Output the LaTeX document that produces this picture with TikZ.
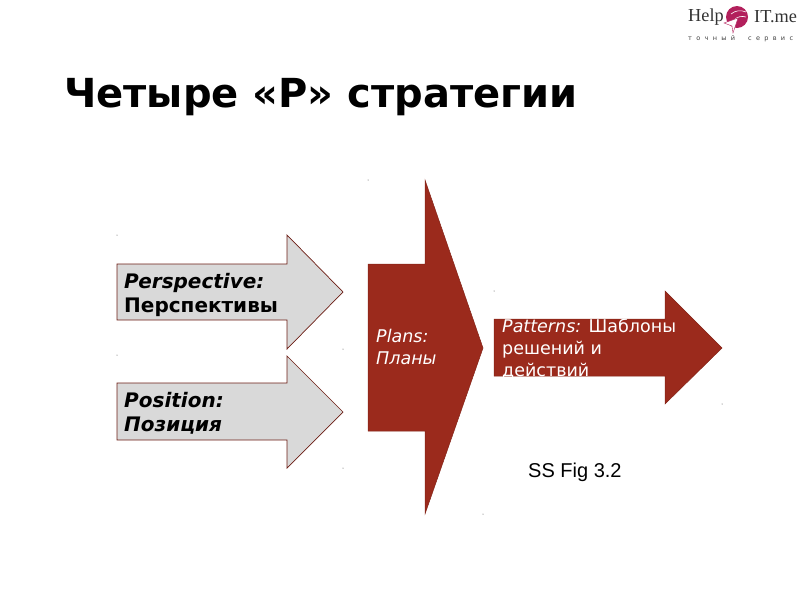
\documentclass[tikz,border=0pt]{standalone}
\usepackage{fontspec}
\setmainfont{DejaVu Sans}
\newfontfamily\figfont{Liberation Sans}
\newfontfamily\logofont{Liberation Serif}
\usepackage{xcolor}
\definecolor{brn}{RGB}{155,42,28}
\definecolor{gry}{RGB}{217,217,217}
\definecolor{pnk}{RGB}{178,32,92}
\begin{document}
\begin{tikzpicture}[x=1pt,y=-1pt,
  grayarr/.style={fill=gry,draw=brn!70!black,line width=0.7pt},
  redarr/.style={fill=brn,draw=brn!85!black,line width=0.5pt},
  lbl/.style={anchor=north west,align=left,inner sep=0pt,font=\fontsize{20}{24}\selectfont},
  wlbl/.style={lbl,text=white,font=\fontsize{17.5}{22}\selectfont},
  logotxt/.style={anchor=west,inner sep=0pt,font=\fontsize{18.3}{22}\selectfont\logofont,text=black!80},
  speck/.style={fill=black!70,circle,inner sep=0pt,minimum size=1pt}]
  \useasboundingbox (0,0) rectangle (800,600);
  \node[anchor=west,inner sep=0pt,font=\fontsize{40}{46}\selectfont\bfseries] (title) at (64,97) {Четыре «Р» стратегии};
  % arrows
  \draw[grayarr] (117,264)--(287,264)--(287,235)--(343,292)--(287,349)--(287,320)--(117,320)--cycle;
  \draw[grayarr] (117,383)--(287,383)--(287,356)--(343,412)--(287,468)--(287,440)--(117,440)--cycle;
  \draw[redarr] (368,264)--(425,264)--(425,180)--(483,348)--(425,514)--(425,431)--(368,431)--cycle;
  \draw[redarr] (494,319)--(665,319)--(665,291)--(722,348)--(665,404)--(665,376)--(494,376)--cycle;
  % labels
  \node[lbl] (persp) at (124,273) {\textbf{\textit{Perspective:}}\\\textbf{Перспективы}};
  \node[lbl] (posn) at (124,392) {\textbf{\textit{Position:}}\\\textbf{\textit{Позиция}}};
  \node[wlbl] (plans) at (376,329) {\textit{Plans:}\\\textit{Планы}};
  \node[wlbl] (patt) at (502,319) {\textit{Patterns:} Шаблоны\\решений и\\действий};
  \node[anchor=west,inner sep=0pt,font=\fontsize{20}{24}\selectfont\figfont] (fig) at (528,472) {SS Fig 3.2};
  % specks
  \foreach \px/\py in {117/235,117/355,343/349,343/468,368/180,494/291,722/404,483/514}
    \node[speck] at (\px,\py) {};
  % logo
  \node[logotxt] (help) at (688,17) {Help};
  \node[logotxt] (itme) at (754,17) {IT.me};
  \node[circle,fill=pnk,minimum size=22pt,inner sep=0pt] (swirl) at (737,17) {};
  \draw[white,line width=0.6pt] (731,14) to[bend left=30] (746,12);
  \draw[white,line width=0.6pt] (734,20) to[bend left=30] (746,17);
  \fill[white,draw=pnk,line width=0.4pt] (724,23)--(738,18)--(733,33)--(732,26)--cycle;
  \node[anchor=west,inner sep=0pt,font=\fontsize{6.5}{8}\selectfont,text=black!75] (slog) at (688,39) {т\,\,\,\,о\,\,\,\,ч\,\,\,\,н\,\,\,\,ы\,\,\,\,й\quad\quad с\,\,\,\,е\,\,\,\,р\,\,\,\,в\,\,\,\,и\,\,\,\,с};
\end{tikzpicture}
\end{document}
